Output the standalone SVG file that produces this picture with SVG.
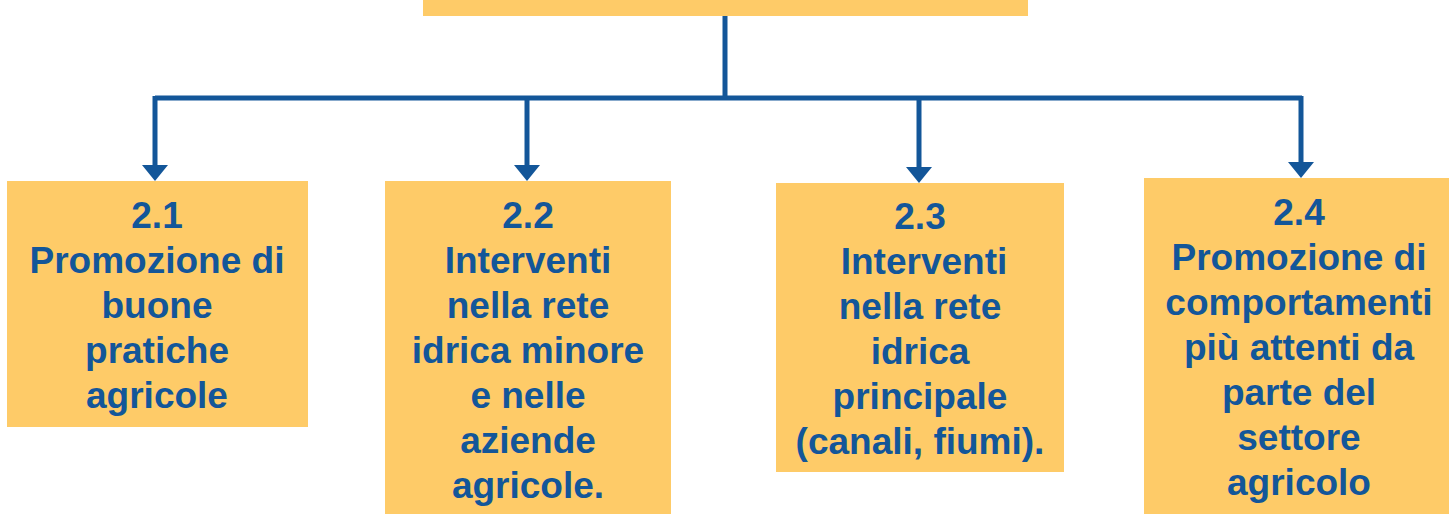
<svg xmlns="http://www.w3.org/2000/svg" width="1449" height="514" viewBox="0 0 1449 514">
<style>
.box{fill:#FECB68;}
.t{font-family:"Liberation Sans",Arial,sans-serif;font-weight:bold;font-size:37px;fill:#135699;text-anchor:middle;}
.ln{stroke:#135699;stroke-width:5;fill:none;}
.ah{fill:#135699;}
</style>
<defs>
<polygon id="arrow" class="ah" points="-13,0 13,0 0,16"/>
</defs>
<rect width="1449" height="514" fill="#ffffff"/>
<g id="top">
<rect class="box" x="423" y="-2" width="605" height="18"/>
</g>
<g id="connectors">
<path class="ln" d="M725,16 V98"/>
<path class="ln" d="M155,98 H1302"/>
<path class="ln" d="M155,96 V166"/>
<path class="ln" d="M527,96 V166"/>
<path class="ln" d="M919,96 V168"/>
<path class="ln" d="M1301,96 V163"/>
<use href="#arrow" x="155" y="165"/>
<use href="#arrow" x="527" y="165"/>
<use href="#arrow" x="919" y="167"/>
<use href="#arrow" x="1301" y="162"/>
</g>
<g id="n21">
<rect class="box" x="7" y="181" width="301" height="246"/>
<text class="t"><tspan x="157" y="228">2.1</tspan><tspan x="157" y="273">Promozione di</tspan><tspan x="157" y="318">buone</tspan><tspan x="157" y="363">pratiche</tspan><tspan x="157" y="408">agricole</tspan></text>
</g>
<g id="n22">
<rect class="box" x="385" y="181" width="286" height="335"/>
<text class="t"><tspan x="528" y="228">2.2</tspan><tspan x="528" y="273">Interventi</tspan><tspan x="528" y="318">nella rete</tspan><tspan x="528" y="363">idrica minore</tspan><tspan x="528" y="408">e nelle</tspan><tspan x="528" y="453">aziende</tspan><tspan x="528" y="498">agricole.</tspan></text>
</g>
<g id="n23">
<rect class="box" x="776" y="183" width="288" height="289"/>
<text class="t"><tspan x="920" y="229">2.3</tspan><tspan x="924" y="274">Interventi</tspan><tspan x="920" y="319">nella rete</tspan><tspan x="920" y="364">idrica</tspan><tspan x="920" y="409">principale</tspan><tspan x="920" y="454">(canali, fiumi).</tspan></text>
</g>
<g id="n24">
<rect class="box" x="1144" y="178" width="307" height="338"/>
<text class="t"><tspan x="1299" y="225">2.4</tspan><tspan x="1299" y="270">Promozione di</tspan><tspan x="1299" y="315">comportamenti</tspan><tspan x="1299" y="360">più attenti da</tspan><tspan x="1299" y="405">parte del</tspan><tspan x="1299" y="450">settore</tspan><tspan x="1299" y="495">agricolo</tspan></text>
</g>
</svg>
